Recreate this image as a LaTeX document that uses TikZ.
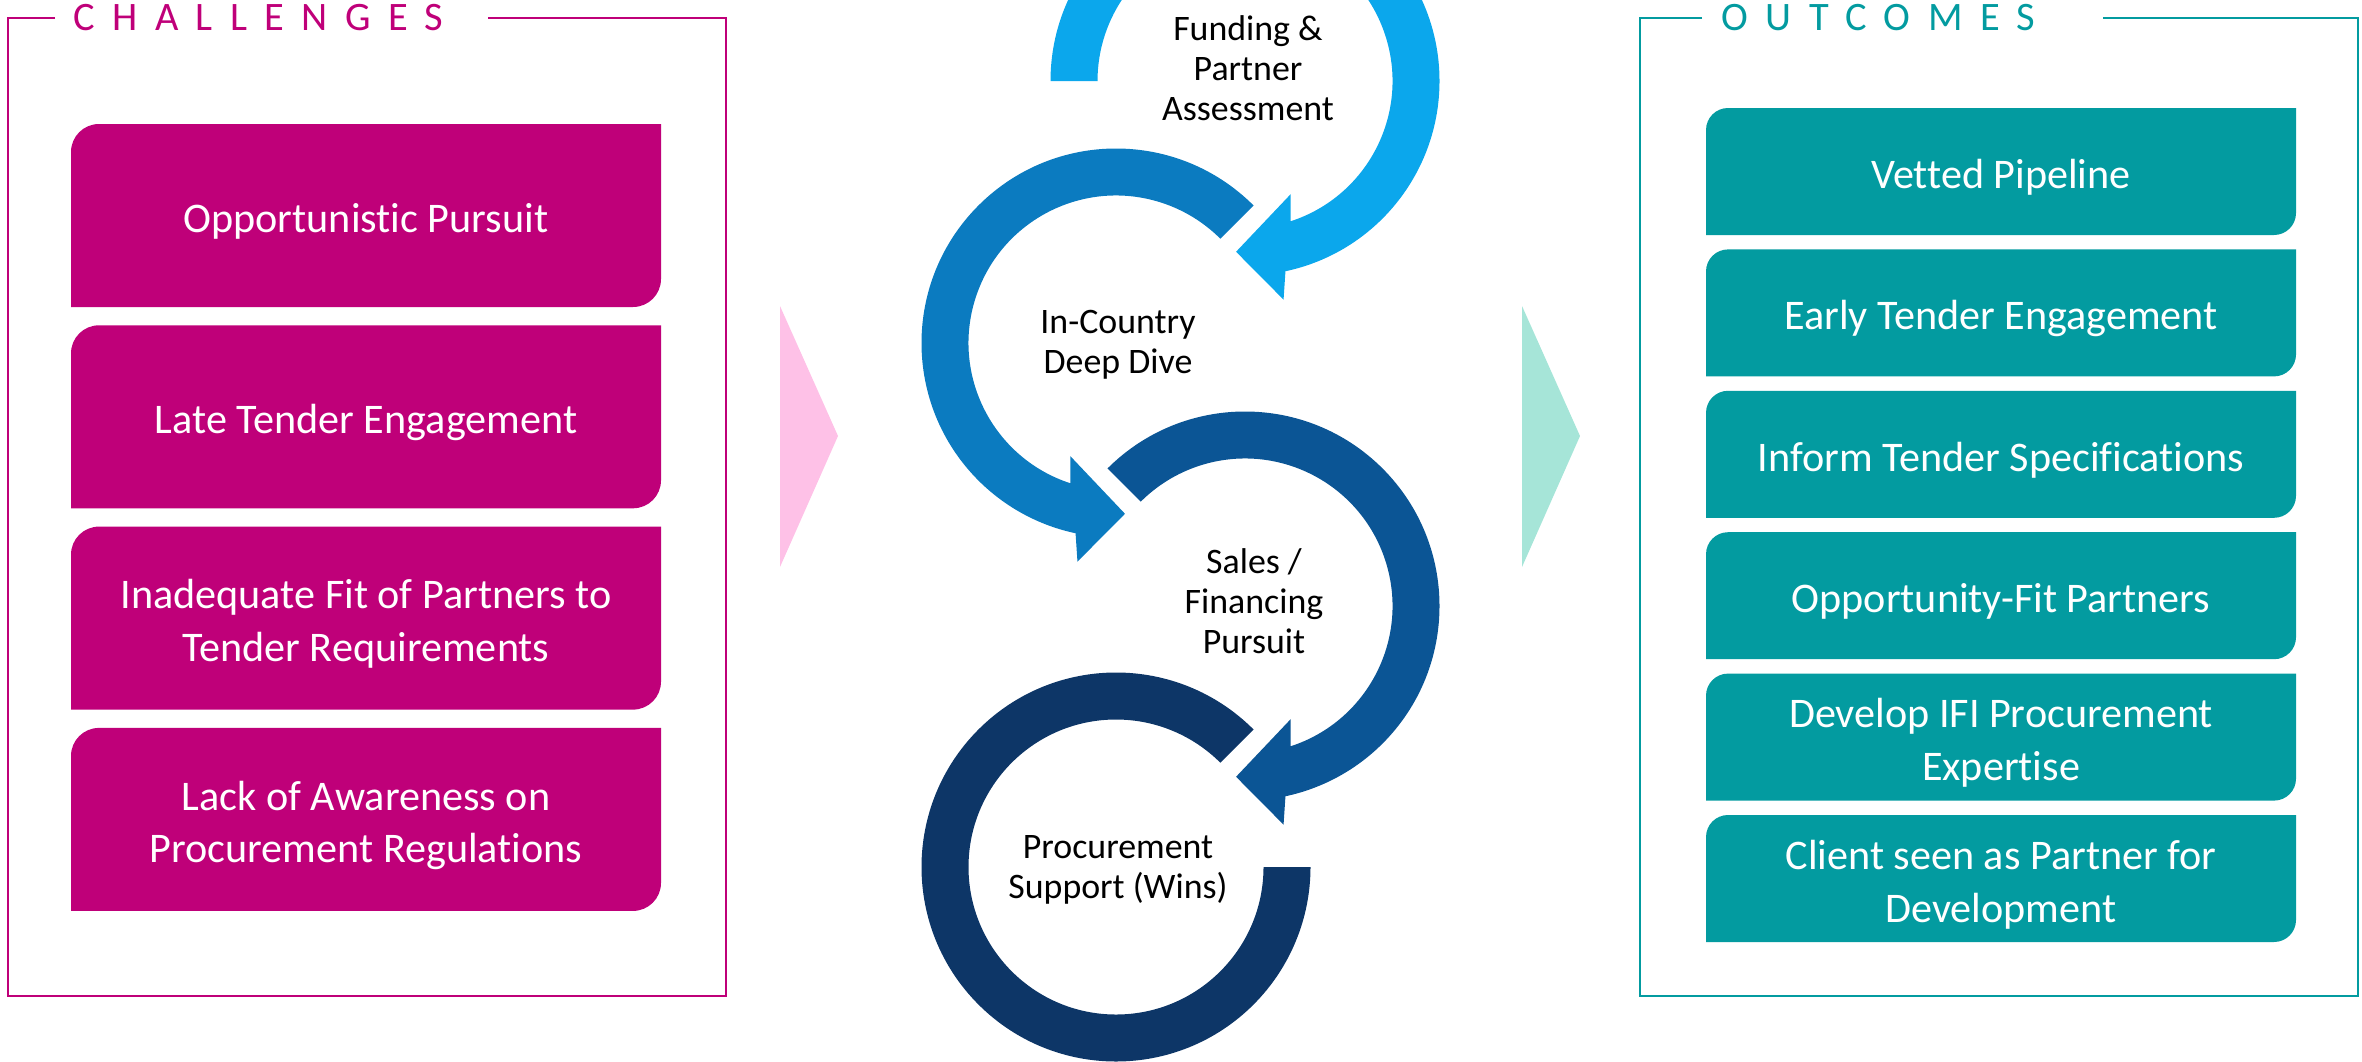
\documentclass[tikz,border=0pt]{standalone}
\usepackage{fontspec}
\setmainfont[Ligatures=NoCommon]{Carlito}
\newfontfamily\headfont[LetterSpace=43]{Carlito}
\usetikzlibrary{positioning}

\definecolor{chpink}{RGB}{191,0,121}
\definecolor{outteal}{RGB}{3,155,160}
\definecolor{pinktri}{RGB}{254,193,231}
\definecolor{tealtri}{RGB}{166,229,216}
\definecolor{stepA}{RGB}{11,167,236}
\definecolor{stepB}{RGB}{11,123,192}
\definecolor{stepC}{RGB}{11,85,149}
\definecolor{stepD}{RGB}{13,54,103}

\tikzset{
	diagfill/.style 2 args={path picture={
		\fill[#1] (path picture bounding box.south west) -- ([yshift=-#2]path picture bounding box.north west)
			arc[start angle=180, end angle=90, radius=#2] -- (path picture bounding box.north east)
			-- ([yshift=#2]path picture bounding box.south east)
			arc[start angle=0, end angle=-90, radius=#2] -- cycle;}}
}

\begin{document}
\begin{tikzpicture}
	\tikzstyle{chbox} = [diagfill={chpink}{0.28cm}, minimum width=5.9cm, minimum height=1.83cm, inner sep=0pt, outer sep=0pt];
	\tikzstyle{outbox} = [diagfill={outteal}{0.22cm}, minimum width=5.9cm, minimum height=1.27cm, inner sep=0pt, outer sep=0pt];
	\tikzstyle{boxtext} = [align=center, inner sep=0pt, yshift=-0.06cm, text=white, font=\fontsize{12}{15}\selectfont];
	\tikzstyle{headtext} = [anchor=west, inner sep=0pt, font=\headfont\fontsize{11.5}{13}\selectfont];
	\tikzstyle{steptext} = [align=center, inner sep=0pt, font=\fontsize{10.2}{11.4}\selectfont];
	\tikzstyle{frame} = [line width=0.65pt];

	\useasboundingbox (0,0) rectangle (23.62,10.61);

	% challenges
	\draw[frame, chpink] (0.55,10.43) -- (0.08,10.43) -- (0.08,0.65) -- (7.26,0.65) -- (7.26,10.43) -- (4.88,10.43);
	\node[headtext, text=chpink] at (0.73,10.43) (chtitle) {CHALLENGES};

	\node[chbox, label={[boxtext]center:Opportunistic Pursuit}] at (3.66,8.455) (ch1) {};
	\node[chbox, below=0.183cm of ch1, label={[boxtext]center:Late Tender Engagement}] (ch2) {};
	\node[chbox, below=0.183cm of ch2, label={[boxtext]center:{Inadequate Fit of Partners to\\Tender Requirements}}] (ch3) {};
	\node[chbox, below=0.183cm of ch3, label={[boxtext]center:{Lack of Awareness on\\Procurement Regulations}}] (ch4) {};

	% outcomes
	\draw[frame, outteal] (17.02,10.43) -- (16.40,10.43) -- (16.40,0.65) -- (23.58,0.65) -- (23.58,10.43) -- (21.03,10.43);
	\node[headtext, text=outteal] at (17.21,10.43) (outtitle) {OUTCOMES};

	\node[outbox, label={[boxtext]center:Vetted Pipeline}] at (20.01,8.895) (out1) {};
	\node[outbox, below=0.144cm of out1, label={[boxtext]center:Early Tender Engagement}] (out2) {};
	\node[outbox, below=0.144cm of out2, label={[boxtext]center:Inform Tender Specifications}] (out3) {};
	\node[outbox, below=0.144cm of out3, label={[boxtext]center:Opportunity-Fit Partners}] (out4) {};
	\node[outbox, below=0.144cm of out4, label={[boxtext]center:{Develop IFI Procurement\\Expertise}}] (out5) {};
	\node[outbox, below=0.144cm of out5, label={[boxtext]center:{Client seen as Partner for\\Development}}] (out6) {};

	% chevrons
	\fill[pinktri] (7.80,7.55) -- (8.38,6.25) -- (7.80,4.94) -- cycle;
	\fill[tealtri] (15.22,7.55) -- (15.80,6.25) -- (15.22,4.94) -- cycle;

	% circular steps
	\begin{scope}
		\clip (0,0) rectangle (23.62,10.61);
		\fill[stepA, shift={(12.45,9.80)}] (180:1.945) arc[start angle=180, end angle=-78, radius=1.945]
			-- (-80:2.22) -- (-93:1.71) -- (-68:1.22) -- (-72:1.475)
			arc[start angle=-72, end angle=180, radius=1.475] -- cycle;
		\fill[stepB, shift={(11.16,7.18)}] (45:1.945) arc[start angle=45, end angle=258, radius=1.945]
			-- (260:2.22) -- (273:1.71) -- (248:1.22) -- (252:1.475)
			arc[start angle=252, end angle=45, radius=1.475] -- cycle;
		\fill[stepC, shift={(12.45,4.55)}] (135:1.945) arc[start angle=135, end angle=-78, radius=1.945]
			-- (-80:2.22) -- (-93:1.71) -- (-68:1.22) -- (-72:1.475)
			arc[start angle=-72, end angle=135, radius=1.475] -- cycle;
		\fill[stepD, shift={(11.16,1.94)}] (45:1.945) arc[start angle=45, end angle=360, radius=1.945]
			-- (0:1.475) arc[start angle=360, end angle=45, radius=1.475] -- cycle;
	\end{scope}

	\node[steptext] at (12.48,9.93) (fund) {Funding \&\\Partner\\Assessment};
	\node[steptext] at (11.18,7.16) (deep) {In-Country\\Deep Dive};
	\node[steptext] at (12.54,4.60) (sales) {Sales /\\Financing\\Pursuit};
	\node[steptext] at (11.18,1.91) (proc) {Procurement\\Support (Wins)};

\end{tikzpicture}
\end{document}
